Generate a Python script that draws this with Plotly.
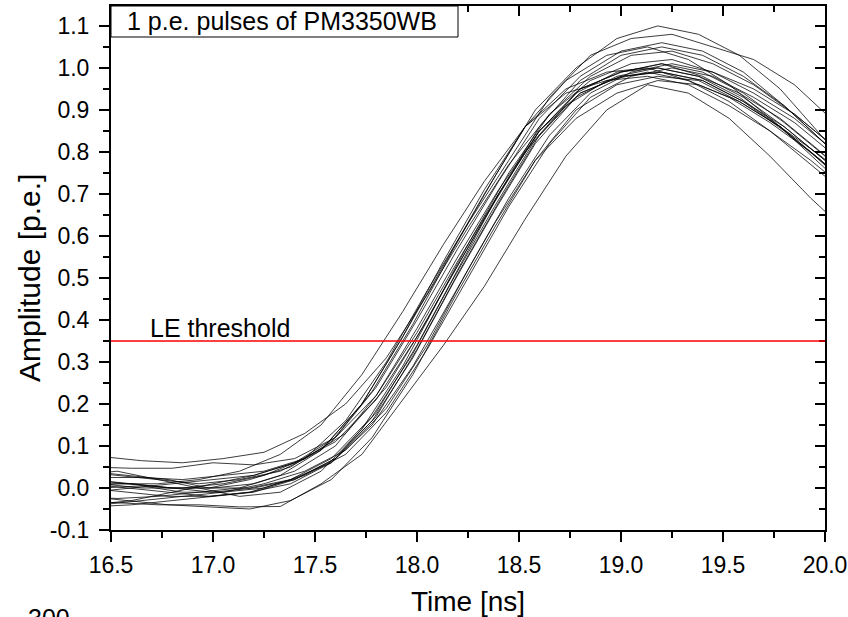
import plotly.graph_objects as go

# ---- sampling time grids (ns) ----
GA = [16.40, 16.60, 16.80, 17.00, 17.20, 17.40, 17.60, 17.80, 18.00, 18.20,
      18.40, 18.60, 18.80, 19.00, 19.20, 19.40, 19.60, 19.80, 20.00, 20.20]
GB = [16.45, 16.65, 16.85, 17.05, 17.25, 17.45, 17.65, 17.85, 18.05, 18.25,
      18.45, 18.65, 18.85, 19.05, 19.25, 19.45, 19.65, 19.85, 20.05, 20.25]
GC = [16.38, 16.58, 16.78, 16.98, 17.18, 17.38, 17.58, 17.78, 17.98, 18.18,
      18.38, 18.58, 18.78, 18.98, 19.18, 19.38, 19.58, 19.78, 19.98, 20.18]
GD = [16.33, 16.53, 16.73, 16.93, 17.13, 17.33, 17.53, 17.73, 17.93, 18.13,
      18.33, 18.53, 18.73, 18.93, 19.13, 19.33, 19.53, 19.73, 19.93, 20.13]

# ---- pulse amplitudes (p.e.) ----
pulse01 = [0.01, 0.00, 0.00, 0.01, 0.03, 0.07, 0.16, 0.30, 0.47, 0.63, 0.78, 0.93, 1.03, 1.07, 1.08, 1.05, 1.02, 0.96, 0.87, 0.78]
pulse02 = [0.02, 0.01, 0.00, 0.00, 0.02, 0.05, 0.11, 0.23, 0.39, 0.57, 0.74, 0.90, 1.00, 1.07, 1.10, 1.08, 1.03, 0.95, 0.84, 0.74]
pulse03 = [-0.01, 0.00, 0.01, 0.02, 0.03, 0.06, 0.12, 0.24, 0.40, 0.57, 0.73, 0.88, 0.98, 1.04, 1.06, 1.04, 0.99, 0.91, 0.82, 0.72]
pulse04 = [0.03, 0.04, 0.02, 0.01, 0.02, 0.04, 0.09, 0.20, 0.36, 0.53, 0.70, 0.86, 0.97, 1.03, 1.05, 1.02, 0.96, 0.88, 0.80, 0.71]
pulse05 = [0.075, 0.065, 0.06, 0.07, 0.085, 0.13, 0.20, 0.31, 0.46, 0.62, 0.77, 0.89, 0.97, 1.01, 1.02, 0.99, 0.94, 0.88, 0.80, 0.71]
pulse06 = [0.05, 0.047, 0.047, 0.06, 0.055, 0.07, 0.12, 0.22, 0.37, 0.54, 0.70, 0.85, 0.95, 0.99, 1.01, 0.98, 0.93, 0.86, 0.78, 0.69]
pulse07 = [0.04, 0.03, 0.02, 0.00, 0.00, 0.02, 0.07, 0.17, 0.32, 0.50, 0.67, 0.83, 0.94, 0.99, 1.00, 0.98, 0.93, 0.86, 0.77, 0.68]
pulse08 = [-0.02, -0.025, -0.02, -0.01, 0.00, 0.03, 0.09, 0.20, 0.36, 0.54, 0.71, 0.86, 0.95, 0.99, 1.00, 0.97, 0.92, 0.85, 0.77, 0.69]
pulse09 = [-0.045, -0.04, -0.03, -0.02, -0.01, 0.02, 0.07, 0.17, 0.33, 0.51, 0.68, 0.84, 0.94, 0.98, 0.99, 0.97, 0.92, 0.86, 0.78, 0.70]
pulse10 = [0.00, 0.005, -0.01, -0.01, 0.00, 0.03, 0.08, 0.18, 0.33, 0.50, 0.67, 0.82, 0.93, 0.98, 1.00, 0.98, 0.93, 0.87, 0.79, 0.70]
pulse11 = [0.01, 0.00, -0.01, -0.02, -0.01, 0.02, 0.06, 0.15, 0.29, 0.46, 0.63, 0.78, 0.88, 0.94, 0.97, 0.96, 0.92, 0.86, 0.79, 0.71]
pulse12 = [0.04, 0.03, 0.02, 0.00, -0.02, -0.01, 0.04, 0.14, 0.29, 0.47, 0.64, 0.80, 0.91, 0.97, 0.99, 0.97, 0.93, 0.87, 0.80, 0.72]
pulse13 = [-0.04, -0.03, -0.01, 0.01, 0.03, 0.06, 0.11, 0.21, 0.36, 0.53, 0.70, 0.85, 0.95, 0.99, 1.01, 0.99, 0.94, 0.87, 0.79, 0.70]
pulse14 = [0.025, 0.025, 0.02, 0.03, 0.04, 0.07, 0.13, 0.24, 0.40, 0.58, 0.75, 0.89, 0.98, 1.03, 1.04, 1.01, 0.96, 0.89, 0.81, 0.72]
pulse15 = [-0.02, -0.03, -0.04, -0.045, -0.05, -0.03, 0.02, 0.12, 0.27, 0.45, 0.62, 0.78, 0.90, 0.96, 0.98, 0.97, 0.92, 0.86, 0.78, 0.69]
pulse16 = [-0.03, -0.035, -0.04, -0.04, -0.045, -0.044, 0.01, 0.08, 0.21, 0.34, 0.48, 0.64, 0.79, 0.90, 0.96, 0.94, 0.88, 0.79, 0.69, 0.60]
pulse17 = [0.01, 0.01, 0.00, 0.00, 0.01, 0.04, 0.10, 0.22, 0.38, 0.55, 0.71, 0.85, 0.94, 0.98, 0.99, 0.97, 0.92, 0.85, 0.77, 0.68]
pulse18 = [-0.04, -0.03, -0.02, -0.01, 0.01, 0.04, 0.09, 0.19, 0.34, 0.52, 0.69, 0.84, 0.94, 0.99, 1.01, 0.99, 0.95, 0.89, 0.81, 0.72]
pulse19 = [0.00, -0.01, -0.02, -0.02, -0.01, 0.01, 0.06, 0.16, 0.31, 0.49, 0.66, 0.82, 0.93, 0.98, 1.00, 0.98, 0.94, 0.88, 0.80, 0.71]
pulse20 = [0.00, 0.01, 0.01, 0.02, 0.04, 0.08, 0.15, 0.27, 0.42, 0.58, 0.73, 0.86, 0.94, 0.97, 0.98, 0.96, 0.91, 0.85, 0.78, 0.70]
pulse21 = [0.02, 0.01, 0.00, -0.01, 0.00, 0.02, 0.07, 0.18, 0.34, 0.52, 0.70, 0.86, 0.97, 1.03, 1.05, 1.03, 0.98, 0.91, 0.82, 0.72]

pulses = [
    (GB, pulse01), (GC, pulse02), (GA, pulse03), (GD, pulse04), (GB, pulse05),
    (GA, pulse06), (GC, pulse07), (GD, pulse08), (GA, pulse09), (GB, pulse10),
    (GC, pulse11), (GD, pulse12), (GA, pulse13), (GB, pulse14), (GC, pulse15),
    (GD, pulse16), (GA, pulse17), (GB, pulse18), (GC, pulse19), (GD, pulse20),
    (GA, pulse21),
]

LE_THRESHOLD = 0.35
X_RANGE = [16.5, 20.0]
Y_RANGE = [-0.1, 1.1474]
X_TICKS = [16.5, 17.0, 17.5, 18.0, 18.5, 19.0, 19.5, 20.0]
Y_TICKS = [-0.1, 0.0, 0.1, 0.2, 0.3, 0.4, 0.5, 0.6, 0.7, 0.8, 0.9, 1.0, 1.1]

FONT = "Liberation Sans, Arial, sans-serif"

fig = go.Figure()
for t, a in pulses:
    fig.add_trace(go.Scatter(x=t, y=a, mode="lines",
                             line=dict(color="rgba(0,0,0,0.85)", width=0.9),
                             showlegend=False, hoverinfo="skip"))

fig.add_shape(type="line", xref="paper", x0=0, x1=1, yref="y",
              y0=LE_THRESHOLD, y1=LE_THRESHOLD,
              line=dict(color="#ff0000", width=1.5))

axis_common = dict(showgrid=False, zeroline=False, showline=True,
                   linecolor="black", linewidth=2, tickcolor="black",
                   tickwidth=2, ticklen=10, automargin=False)

fig.update_layout(
    width=848, height=617,
    margin=dict(l=111, r=23, t=6, b=87, autoexpand=False),
    paper_bgcolor="white", plot_bgcolor="white",
    font=dict(family=FONT, color="black"),
    xaxis=dict(range=X_RANGE, tickvals=X_TICKS,
               ticktext=[f"{v:.1f}" for v in X_TICKS], ticks="outside",
               tickfont=dict(size=23), ticklabelstandoff=3,
               minor=dict(dtick=0.25, tick0=16.5, ticks="outside", ticklen=6,
                          tickwidth=2, tickcolor="black"),
               **axis_common),
    yaxis=dict(range=Y_RANGE, tickvals=Y_TICKS,
               ticktext=[f"{v:.1f}" for v in Y_TICKS], ticks="outside",
               tickfont=dict(size=23), ticklabelstandoff=5,
               minor=dict(dtick=0.05, tick0=0, ticks="outside", ticklen=6,
                          tickwidth=2, tickcolor="black"),
               **axis_common),
    xaxis2=dict(range=X_RANGE, overlaying="x", side="top", anchor="y",
                tickvals=X_TICKS, ticks="inside", showticklabels=False,
                minor=dict(dtick=0.25, tick0=16.5, ticks="inside", ticklen=6,
                           tickwidth=2, tickcolor="black"),
                **axis_common),
    yaxis2=dict(range=Y_RANGE, overlaying="y", side="right", anchor="x",
                tickvals=Y_TICKS, ticks="inside", showticklabels=False,
                minor=dict(dtick=0.05, tick0=0, ticks="inside", ticklen=6,
                           tickwidth=2, tickcolor="black"),
                **axis_common),
)

# invisible trace to activate the mirrored axes
fig.add_trace(go.Scatter(x=[X_RANGE[0]], y=[Y_RANGE[0]], xaxis="x2", yaxis="y2",
                         mode="markers", marker=dict(opacity=0),
                         showlegend=False, hoverinfo="skip"))

# legend-like title box
fig.add_shape(type="rect", xref="paper", yref="paper",
              x0=0, x1=(458 - 111) / 714, y0=(530 - 37) / 524, y1=1,
              line=dict(color="black", width=1), fillcolor="white")
fig.add_annotation(text="1 p.e. pulses of PM3350WB", xref="paper", yref="paper",
                   x=(125 - 111) / 714, y=(530 - 21) / 524, xanchor="left",
                   yanchor="middle", showarrow=False, font=dict(size=25))

fig.add_annotation(text="LE threshold", xref="paper", yref="y",
                   x=(148 - 111) / 714, y=0.382, xanchor="left", yanchor="middle",
                   showarrow=False, font=dict(size=25))

fig.add_annotation(text="Time [ns]", xref="paper", yref="paper",
                   x=0.5, y=(530 - 601) / 524, xanchor="center", yanchor="middle",
                   showarrow=False, font=dict(size=28))
fig.add_annotation(text="Amplitude [p.e.]", xref="paper", yref="paper",
                   x=(29 - 111) / 714, y=(530 - 278) / 524, xanchor="center",
                   yanchor="middle", textangle=-90, showarrow=False,
                   font=dict(size=30))
fig.add_annotation(text="300", xref="paper", yref="paper",
                   x=(26 - 111) / 714, y=(530 - 602) / 524, xanchor="left",
                   yanchor="top", showarrow=False, font=dict(size=25))

fig.write_html("out.html")
